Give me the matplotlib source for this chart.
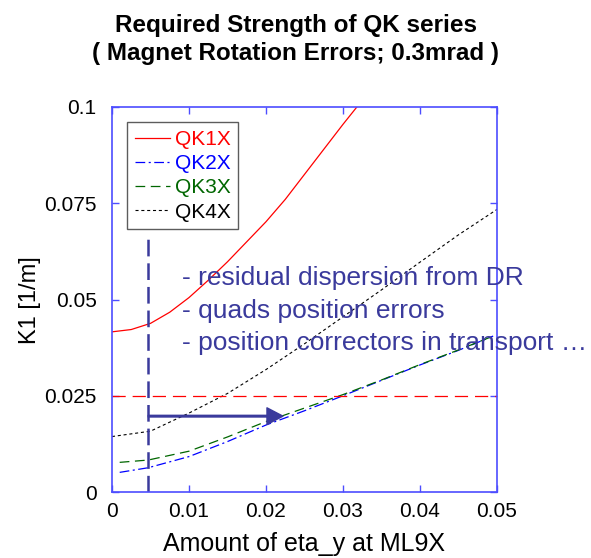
import matplotlib
matplotlib.use("Agg")
import matplotlib.pyplot as plt

plt.rcParams['font.family'] = ['Liberation Sans', 'DejaVu Sans']
plt.rcParams['lines.scale_dashes'] = False

# ---- data ----
eta_qk1 = [0, 0.0025, 0.005, 0.0075, 0.01, 0.0125, 0.015, 0.0175, 0.02,
           0.0225, 0.025, 0.0275, 0.03, 0.0318]
k_qk1 = [0.0416, 0.0422, 0.0438, 0.0467, 0.0505, 0.0550, 0.0598, 0.0650,
         0.0702, 0.0760, 0.0825, 0.0890, 0.0955, 0.1]

eta_qk2 = [0.001, 0.0047, 0.01, 0.015, 0.02, 0.025, 0.03, 0.035, 0.04,
           0.045, 0.0495]
k_qk2 = [0.0051, 0.0063, 0.0092, 0.0131, 0.0174, 0.0211, 0.0250, 0.0290,
         0.0330, 0.0368, 0.0405]

eta_qk3 = [0.001, 0.0047, 0.01, 0.015, 0.02, 0.025, 0.03, 0.035, 0.04,
           0.045, 0.0495]
k_qk3 = [0.0077, 0.0083, 0.0106, 0.0143, 0.0183, 0.0218, 0.0253, 0.0291,
         0.0331, 0.0369, 0.0405]

eta_qk4 = [0, 0.005, 0.01, 0.015, 0.02, 0.025, 0.03, 0.035, 0.04, 0.045, 0.05]
k_qk4 = [0.0144, 0.0158, 0.0205, 0.0256, 0.0318, 0.0385, 0.0455, 0.0525,
         0.0597, 0.0668, 0.0734]

labels = ['QK1X', 'QK2X', 'QK3X', 'QK4X']
colors = ['#ff0000', '#0000ff', '#006600', '#000000']

x_ticks = [0, 0.01, 0.02, 0.03, 0.04, 0.05]
x_ticklabels = ['0', '0.01', '0.02', '0.03', '0.04', '0.05']
y_ticks = [0, 0.025, 0.05, 0.075, 0.1]
y_ticklabels = ['0', '0.025', '0.05', '0.075', '0.1']

k_limit = 0.025          # red dashed horizontal level
eta_marker = 0.0047      # vertical dashed line position
eta_marker_top = 0.067
arrow_k = 0.0197
arrow_end = 0.0222

notes = ['- residual dispersion from DR',
         '- quads position errors',
         '- position correctors in transport \u2026']

# ---- figure ----
fig = plt.figure(figsize=(5.91, 5.58), dpi=100)
ax = fig.add_axes([112/591, 66/558, 385/591, 385/558])

spine_col = '#4d4dff'
note_col = '#3a3a9c'

ax.plot(eta_qk1, k_qk1, color=colors[0], lw=0.9, linestyle='-', label=labels[0])
ax.plot(eta_qk2, k_qk2, color=colors[1], lw=0.9, linestyle=(0, (7, 2.5, 1.5, 2.5)), label=labels[1])
ax.plot(eta_qk3, k_qk3, color=colors[2], lw=0.9, linestyle=(0, (7, 4)), label=labels[2])
ax.plot(eta_qk4, k_qk4, color=colors[3], lw=0.8, linestyle=(0, (2.2, 2)), label=labels[3])

ax.axhline(k_limit, color='#ff0000', lw=0.9, linestyle=(0, (9.5, 5)))
ax.plot([eta_marker, eta_marker], [0, eta_marker_top], color=note_col, lw=1.8,
        linestyle=(0, (12, 5)))
ax.annotate('', xy=(arrow_end, arrow_k), xytext=(eta_marker, arrow_k),
            arrowprops=dict(color=note_col, width=1.2, headwidth=12,
                            headlength=11.5, shrink=0))

for i, line in enumerate(notes):
    ax.text(0.00905, 0.0538 - i * 0.0085, line, color=note_col, fontsize=19,
            va='baseline', ha='left')

ax.set_xlim(0, 0.05)
ax.set_ylim(0, 0.1)
ax.set_xticks(x_ticks)
ax.set_xticklabels(x_ticklabels)
ax.set_yticks(y_ticks)
ax.set_yticklabels(y_ticklabels)
ax.tick_params(direction='in', length=5, color=spine_col, labelsize=15,
               top=True, right=True, width=1)
ax.tick_params(axis='x', pad=7)
ax.tick_params(axis='y', pad=11)
for s in ax.spines.values():
    s.set_color(spine_col)
    s.set_linewidth(1.2)

fig.text(304/591, 1 - 551/558, 'Amount of eta_y at ML9X', fontsize=18,
         ha='center', va='baseline')
fig.text(30/591, 1 - 300/558, 'K1 [1/m]', fontsize=17, rotation=90,
         ha='center', va='center')

fig.text(296/591, 1 - 31.7/558, 'Required Strength of QK series',
         fontsize=17.5, fontweight='bold', ha='center', va='baseline')
fig.text(296/591, 1 - 60/558, '( Magnet Rotation Errors; 0.3mrad )',
         fontsize=17.5, fontweight='bold', ha='center', va='baseline')

leg = ax.legend(loc='upper left', bbox_to_anchor=(15/385, 1 - 15/385),
                fontsize=15, handlelength=1.7, handletextpad=0.2,
                labelspacing=0.25, borderpad=0.38, borderaxespad=0,
                fancybox=False, labelcolor=colors)
leg.get_frame().set_edgecolor('#333333')
leg.get_frame().set_linewidth(1.0)

fig.savefig('out.png', dpi=100)
